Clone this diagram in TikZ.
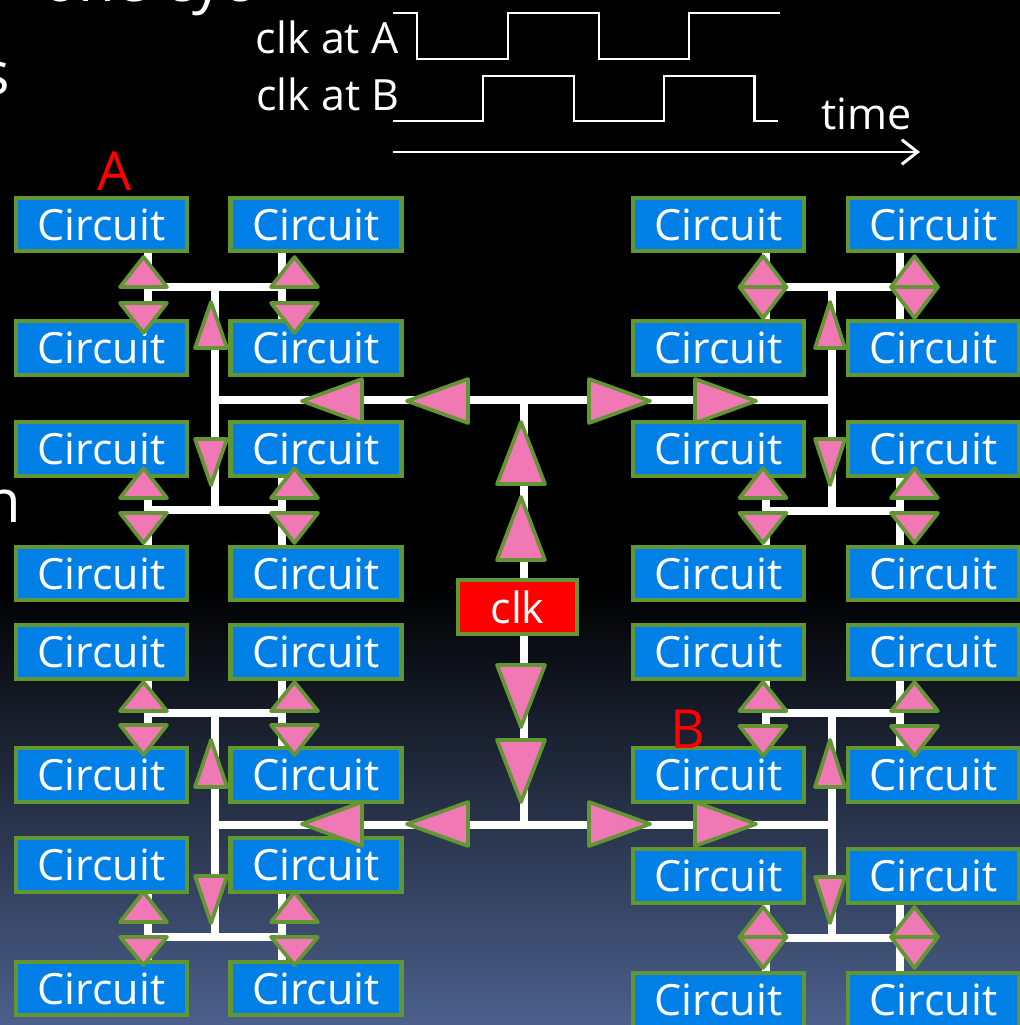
\documentclass[tikz,border=0pt]{standalone}
\usepackage{fontspec}
\setmainfont{Open Sans}
\usetikzlibrary{positioning}
\usetikzlibrary{calc}
\usetikzlibrary{arrows.meta}
\definecolor{boxblue}{RGB}{0,128,230}
\definecolor{edgegreen}{RGB}{98,150,50}
\definecolor{pinkfill}{RGB}{240,120,180}
\definecolor{clkred}{RGB}{255,0,0}
\definecolor{bgblue}{RGB}{76,96,140}
\pgfdeclarelayer{back}
\pgfdeclarelayer{wires}
\pgfsetlayers{back,wires,main}

\tikzset{
  circuit/.style={draw=edgegreen, fill=boxblue, line width=2.3pt, minimum width=3.42cm,
    minimum height=1.07cm, inner sep=0pt, text=white, font=\fontsize{24.5}{29}\selectfont},
  clkbox/.style={circuit, fill=clkred, minimum width=2.38cm, minimum height=1.08cm},
  wire/.style={white, line width=4pt},
  wave/.style={white, line width=1.7pt},
  marker/.style={draw=edgegreen, fill=pinkfill, line width=2.1pt, line join=round},
  wavetext/.style={text=white, inner sep=0pt, font=\fontsize{24.5}{29}\selectfont},
  tag/.style={text=clkred, inner sep=0pt, font=\fontsize{30.7}{36}\selectfont},
  fragment/.style={text=white, inner sep=0pt, font=\fontsize{34}{40}\selectfont}
}

% pink markers on the clock wires: apex, half base, length
\newcommand{\triup}[4]{\draw[marker] (#1,#2) -- ++(-#3,#4) -- ++(2*#3,0) -- cycle;}
\newcommand{\tridown}[4]{\draw[marker] (#1,#2) -- ++(-#3,-#4) -- ++(2*#3,0) -- cycle;}
\newcommand{\trileft}[4]{\draw[marker] (#1,#2) -- ++(#4,-#3) -- ++(0,2*#3) -- cycle;}
\newcommand{\triright}[4]{\draw[marker] (#1,#2) -- ++(-#4,-#3) -- ++(0,2*#3) -- cycle;}

\begin{document}
\begin{tikzpicture}[x=0.02cm, y=-0.02cm, >={Straight Barb[length=9pt, width=14pt]}]
    % Background
    \begin{pgfonlayer}{back}
        \fill[black] (0,0) rectangle (1020,586);
        \shade[top color=black, bottom color=bgblue] (0,585) rectangle (1020,1025);
    \end{pgfonlayer}
    \useasboundingbox (0,0) rectangle (1020,1025);

    % Slide text cut off at the edges
    \node[fragment, anchor=base west] (frtop) at (42,1) {one cyc};
    \node[fragment, anchor=base east] (frs) at (10,94) {s};
    \node[fragment, anchor=base east] (frn) at (22,522) {n};

    % Clock waveforms
    \node[wavetext, anchor=base east] (lblA) at (399,53) {clk at A};
    \node[wavetext, anchor=base east] (lblB) at (400,110) {clk at B};
    \node[wavetext, anchor=base west] (lbltime) at (821,129) {time};
    \draw[wave] (393,13) -- (417,13) -- (417,59) -- (508,59) -- (508,13) -- (599,13)
        -- (599,59) -- (689,59) -- (689,13) -- (780,13);
    \draw[wave] (393,121) -- (483,121) -- (483,76) -- (574,76) -- (574,121) -- (664,121)
        -- (664,76) -- (754,76) -- (754,121) -- (778,121);
    \coordinate (t0) at (393,152);
    \coordinate (t1) at (920,152);
    \draw[wave, ->] (t0) -- (t1);

    % Circuits
    \foreach \r/\y in {1/224.5, 2/348, 3/449, 4/573.5} {
        \node[circuit] (tl\r1) at (101.5,\y) {Circuit};
        \node[circuit] (tl\r2) at (316,\y) {Circuit};
        \node[circuit] (tr\r1) at (718.5,\y) {Circuit};
        \node[circuit] (tr\r2) at (933.5,\y) {Circuit};
    }
    \foreach \r/\y in {1/652, 2/775, 3/865, 4/988.5} {
        \node[circuit] (bl\r1) at (101.5,\y) {Circuit};
        \node[circuit] (bl\r2) at (316,\y) {Circuit};
    }
    \foreach \r/\y in {1/652, 2/775, 3/876, 4/1000} {
        \node[circuit] (br\r1) at (718.5,\y) {Circuit};
        \node[circuit] (br\r2) at (933.5,\y) {Circuit};
    }
    \node[clkbox] (clk) at (517.5,607) {clk};

    % Labels
    \node[tag, anchor=base] (tagA) at (115,190) {A};
    \node[tag, anchor=base] (tagB) at (688,748) {B};

    % H-tree wires
    \begin{pgfonlayer}{wires}
        \foreach \q/\sl/\sr/\tx/\ty/\by in {tl/148/282/215/287/510, tr/766/900/832/287/511,
                                            bl/148/282/215/713/937, br/766/900/832/713/938} {
            \coordinate (sl\q) at (\sl,\ty);
            \coordinate (sr\q) at (\sr,\ty);
            \coordinate (slb\q) at (\sl,\by);
            \coordinate (srb\q) at (\sr,\by);
            \coordinate (top\q) at (\tx,\ty);
            \coordinate (bot\q) at (\tx,\by);
            \draw[wire] (\q11 -| sl\q) -- (\q21 -| sl\q);
            \draw[wire] (\q12 -| sr\q) -- (\q22 -| sr\q);
            \draw[wire] (\q31 -| sl\q) -- (\q41 -| sl\q);
            \draw[wire] (\q32 -| sr\q) -- (\q42 -| sr\q);
            \draw[wire] (sl\q) -- (sr\q);
            \draw[wire] (slb\q) -- (srb\q);
            \draw[wire] (top\q) -- (bot\q);
        }
        \coordinate (hubtop) at (524,400);
        \coordinate (hubbot) at (524,825);
        \draw[wire] (hubtop) -- (hubbot);
        \draw[wire] (hubtop -| toptl) -- (hubtop -| toptr);
        \draw[wire] (hubbot -| topbl) -- (hubbot -| topbr);
    \end{pgfonlayer}

    % Markers, upper half
    \foreach \x in {143.5, 294.5} {
        \triup{\x}{257}{23.5}{30}
        \tridown{\x}{333}{23.5}{30}
        \triup{\x}{468}{23.5}{30}
        \tridown{\x}{543}{23.5}{30}
    }
    \foreach \x in {763, 914.5} {
        \triup{\x}{256}{23.5}{31}
        \tridown{\x}{318}{23.5}{31}
        \triup{\x}{468}{23.5}{30}
        \tridown{\x}{543}{23.5}{30}
    }
    \triup{211}{302}{16}{46}
    \tridown{211}{485}{16}{46}
    \triup{830}{302}{15}{46}
    \tridown{830}{485}{15}{46}

    % Markers, lower half
    \foreach \x in {143.5, 294.5} {
        \triup{\x}{682}{23.5}{29}
        \tridown{\x}{755}{23.5}{30}
        \triup{\x}{892}{23.5}{30}
        \tridown{\x}{965}{23.5}{28}
    }
    \foreach \x in {763, 914.5} {
        \triup{\x}{682}{23.5}{29}
        \tridown{\x}{756}{23.5}{30}
        \triup{\x}{907}{23.5}{30}
        \tridown{\x}{968}{23.5}{31}
    }
    \triup{211}{740}{16}{47}
    \tridown{211}{923}{16}{47}
    \triup{830}{740}{15}{47}
    \tridown{830}{923}{15}{46}

    % Markers from clk
    \foreach \y in {401, 824} {
        \trileft{302}{\y}{22}{60}
        \trileft{407}{\y}{22}{61}
        \triright{650}{\y}{22}{61}
        \triright{756}{\y}{22}{61}
    }
    \triup{521}{422}{24}{62}
    \triup{521}{497}{24}{63}
    \tridown{521}{727}{24}{62}
    \tridown{521}{802}{24}{62}
\end{tikzpicture}
\end{document}
